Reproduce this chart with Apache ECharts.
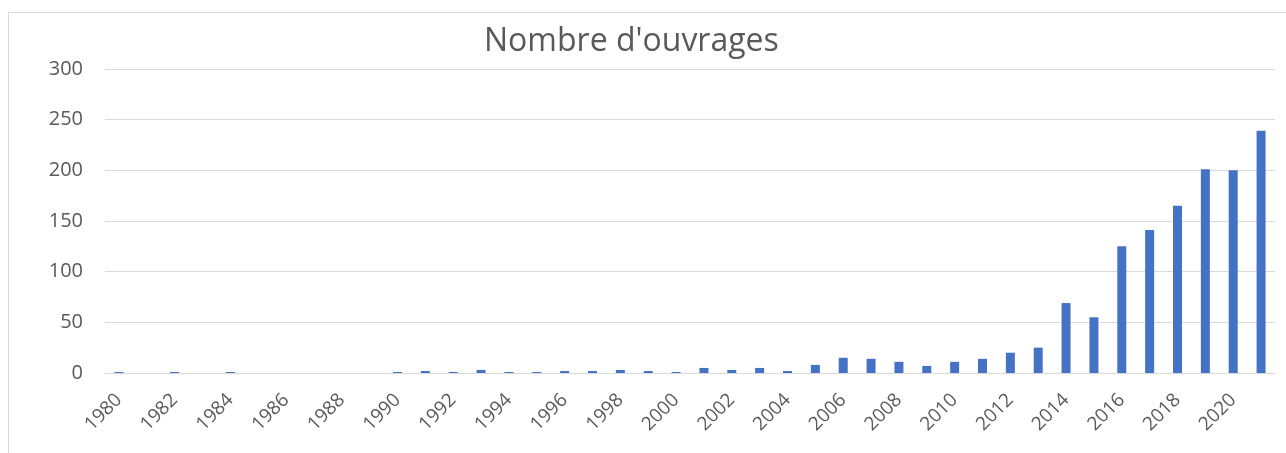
<!DOCTYPE html>
<html lang="fr">
<head>
    <meta charset="UTF-8">
    <title>Nombre d'ouvrages</title>
    <script src="https://cdn.jsdelivr.net/npm/echarts@6.0.0/dist/echarts.min.js"></script>
    <style>
        body { margin: 0; background: #fff; overflow: hidden; }
        #frame { position: absolute; left: 8px; top: 12px; width: 1300px; height: 480px; border: 1px solid #d9d9d9; }
        #chart { position: absolute; left: 0; top: 0; width: 1286px; height: 453px; }
    </style>
</head>
<body>
    <div id="frame"></div>
    <div id="chart"></div>
<script>
    // années 1980 -> 2021
    var years = ['1980','1981','1982','1983','1984','1985','1986','1987','1988','1989',
                 '1990','1991','1992','1993','1994','1995','1996','1997','1998','1999',
                 '2000','2001','2002','2003','2004','2005','2006','2007','2008','2009',
                 '2010','2011','2012','2013','2014','2015','2016','2017','2018','2019',
                 '2020','2021'];
    var ouvrages = [1, 0, 1, 0, 1, 0, 0, 0, 0, 0,
                    1, 2, 1, 3, 1, 1, 2, 2, 3, 2,
                    1, 5, 3, 5, 2, 8, 15, 14, 11, 7,
                    11, 14, 20, 25, 69, 55, 125, 141, 165, 201,
                    200, 239];
    var yTicks = [0, 50, 100, 150, 200, 250, 300];

    var myChart = echarts.init(document.getElementById('chart'));
    var grey = '#595959';
    var option = {
        animation: false,
        title: {
            text: "Nombre d'ouvrages",
            left: 484,
            top: 26,
            padding: 0,
            textStyle: { fontFamily: 'Open Sans', fontSize: 32, fontWeight: 'normal', color: grey }
        },
        grid: { left: 105, right: 11, top: 69, bottom: 80, containLabel: false },
        xAxis: {
            type: 'category',
            data: years,
            axisLine: { lineStyle: { color: '#d9d9d9', width: 1 } },
            axisTick: { show: false },
            axisLabel: {
                interval: 1,
                rotate: 45,
                margin: 24,
                color: grey,
                fontFamily: 'Open Sans',
                fontSize: 19
            }
        },
        yAxis: {
            type: 'value',
            min: yTicks[0],
            max: yTicks[yTicks.length - 1],
            interval: 50,
            axisLine: { show: false },
            axisTick: { show: false },
            splitLine: { lineStyle: { color: '#d9d9d9', width: 1 } },
            axisLabel: { margin: 22, color: grey, fontFamily: 'Open Sans', fontSize: 20 }
        },
        series: [{
            type: 'bar',
            data: ouvrages,
            barWidth: 9,
            itemStyle: { color: '#4472c4' }
        }]
    };
    myChart.setOption(option);
</script>
</body>
</html>
